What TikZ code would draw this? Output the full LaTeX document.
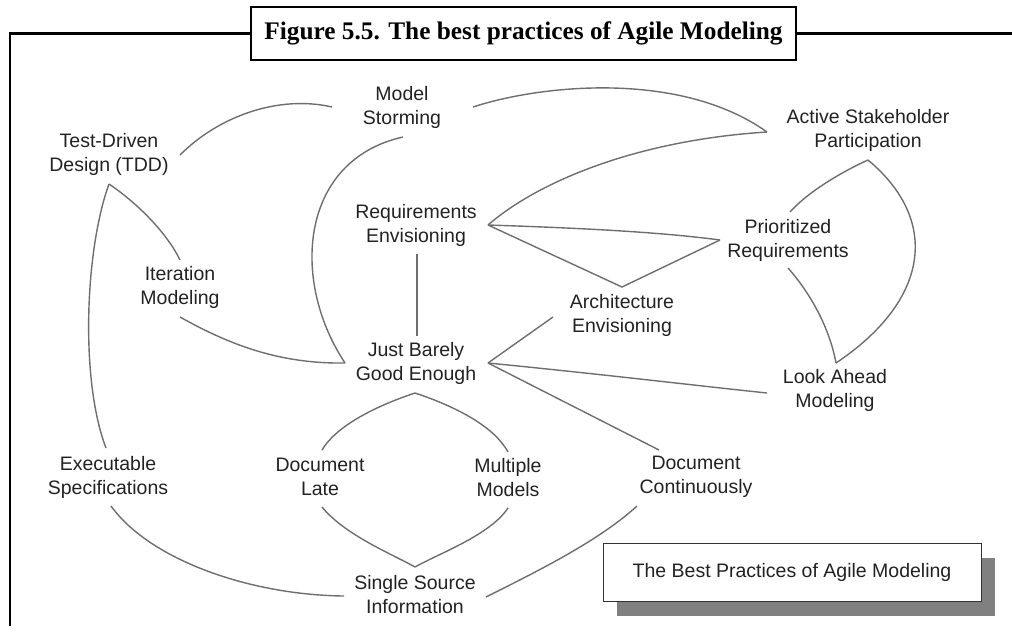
\documentclass[tikz,border=0pt]{standalone}
\usepackage{fontspec}
\setmainfont{Liberation Sans}
\newfontfamily\titlefont{Liberation Serif}
\usetikzlibrary{shadows}
\definecolor{txtgray}{HTML}{222222}
\definecolor{linegray}{HTML}{6E6E6E}
\definecolor{shadowgray}{HTML}{808080}
\begin{document}
\begin{tikzpicture}[x=1pt,y=-1pt,
  lbl/.style={font=\fontsize{19.5}{24}\selectfont, text=txtgray, align=center, inner sep=0pt},
  conn/.style={draw=linegray, line width=1.4pt},
  frameline/.style={draw=black, line width=2.4pt},
  titlebox/.style={draw=black, line width=2.4pt, fill=white, minimum width=545pt, minimum height=53pt, inner sep=0pt,
    font=\titlefont\bfseries\fontsize{25.3}{29}\selectfont},
  legendbox/.style={draw=black!80, line width=1pt, fill=white, minimum width=378pt, minimum height=58pt, inner sep=0pt,
    font=\fontsize{19.5}{22}\selectfont, text=txtgray,
    drop shadow={shadow xshift=14pt, shadow yshift=-15pt, fill=shadowgray, opacity=1}}
]
\useasboundingbox (0,0) rectangle (1012,633);

% frame and title
\coordinate (fc) at (10,33.5);
\coordinate (fb) at (10,626);
\coordinate (fr) at (1012,33.5);
\draw[frameline] (fr) -- (523,33.5);
\draw[frameline] (fb) -- (fc) -- (523,33.5);
\node[titlebox] (title) at (523.5,33.5) {Figure 5.5. The best practices of Agile Modeling};

% labels
\node[lbl] (ms)  at (402,107) {Model\\Storming};
\node[lbl] (tdd) at (109,154) {Test-Driven\\Design (TDD)};
\node[lbl] (asp) at (868,130) {Active Stakeholder\\Participation};
\node[lbl] (re)  at (416,225) {Requirements\\Envisioning};
\node[lbl] (pr)  at (788,240) {Prioritized\\Requirements};
\node[lbl] (im)  at (180,287) {Iteration\\Modeling};
\node[lbl] (ae)  at (622,315) {Architecture\\Envisioning};
\node[lbl] (jb)  at (416,363) {Just Barely\\Good Enough};
\node[lbl] (la)  at (835,390) {Look Ahead\\Modeling};
\node[lbl] (es)  at (108,477) {Executable\\Specifications};
\node[lbl] (dl)  at (320,477) {Document\\Late};
\node[lbl] (mm)  at (508,478) {Multiple\\Models};
\node[lbl] (dc)  at (696,477) {Document\\Continuously};
\node[lbl] (ss)  at (415,595) {Single Source\\Information};

% connector end points
\coordinate (tdd-r) at (180,155);
\coordinate (tdd-b) at (109,184);
\coordinate (ms-l) at (332,107);
\coordinate (ms-r) at (473,107);
\coordinate (ms-b) at (403,137);
\coordinate (jb-l) at (345,363);
\coordinate (jb-r) at (488,363);
\coordinate (jb-t) at (417,336);
\coordinate (jb-b) at (415,393);
\coordinate (im-t) at (180,260);
\coordinate (im-b) at (180,317);
\coordinate (es-t) at (106,448);
\coordinate (es-b) at (111,506);
\coordinate (re-b) at (417,254);
\coordinate (re-r) at (488,225);
\coordinate (asp-l) at (767,132);
\coordinate (asp-b) at (868,160);
\coordinate (pr-l) at (720,240);
\coordinate (pr-t) at (790,212);
\coordinate (pr-b) at (788,268);
\coordinate (ae-t) at (622,287);
\coordinate (ae-l) at (553,317);
\coordinate (la-l) at (767,393);
\coordinate (la-t) at (836,363);
\coordinate (dc-t) at (659,450);
\coordinate (dc-b) at (637,506);
\coordinate (dl-t) at (322,450);
\coordinate (dl-b) at (322,507);
\coordinate (mm-t) at (508,452);
\coordinate (mm-b) at (508,508);
\coordinate (ss-t) at (415,567);
\coordinate (ss-l) at (344,596);
\coordinate (ss-r) at (486,597);

% connectors
\draw[conn] (tdd-r) .. controls (220,115) and (280,95) .. (ms-l);
\draw[conn] (ms-b) .. controls (300,160) and (290,280) .. (jb-l);
\draw[conn] (im-b) .. controls (230,345) and (280,364) .. (jb-l);
\draw[conn] (tdd-b) .. controls (140,205) and (168,235) .. (im-t);
\draw[conn] (tdd-b) .. controls (85,250) and (80,380) .. (es-t);
\draw[conn] (re-b) -- (jb-t);
\draw[conn] (ms-r) .. controls (540,85) and (680,70) .. (asp-l);
\draw[conn] (asp-l) .. controls (640,140) and (540,180) .. (re-r);
\draw[conn] (re-r) .. controls (580,228) and (660,232) .. (pr-l);
\draw[conn] (pr-l) -- (ae-t) -- (re-r);
\draw[conn] (ae-l) -- (jb-r);
\draw[conn] (jb-r) .. controls (600,374) and (700,386) .. (la-l);
\draw[conn] (jb-r) -- (dc-t);
\draw[conn] (asp-b) .. controls (835,175) and (805,195) .. (pr-t);
\draw[conn] (asp-b) .. controls (940,220) and (930,300) .. (la-t);
\draw[conn] (pr-b) .. controls (812,295) and (830,330) .. (la-t);
\draw[conn] (jb-b) .. controls (370,408) and (335,428) .. (dl-t);
\draw[conn] (jb-b) .. controls (460,408) and (495,428) .. (mm-t);
\draw[conn] (dl-b) .. controls (345,535) and (390,553) .. (ss-t);
\draw[conn] (mm-b) .. controls (490,535) and (440,553) .. (ss-t);
\draw[conn] (es-b) .. controls (150,560) and (250,595) .. (ss-l);
\draw[conn] (ss-r) .. controls (540,570) and (600,540) .. (dc-b);

% legend
\node[legendbox] (leg) at (792,572) {The Best Practices of Agile Modeling};
\end{tikzpicture}
\end{document}
